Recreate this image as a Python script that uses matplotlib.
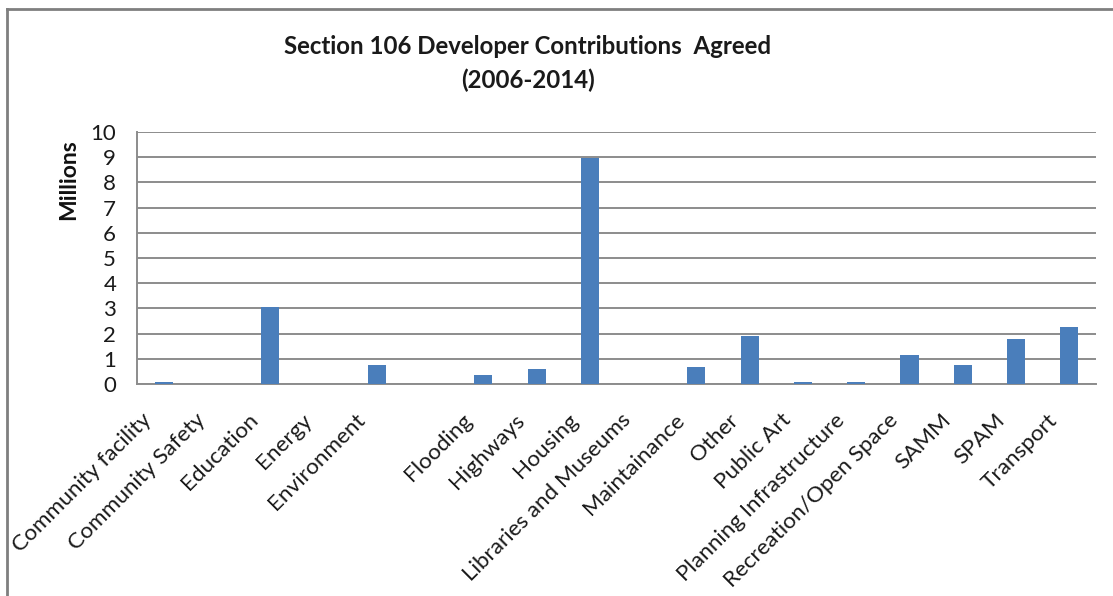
import matplotlib.pyplot as plt
from matplotlib.lines import Line2D

# S106 contributions agreed by category, 2006-2014 (£ millions)
categories = [
    "Community facility", "Community Safety", "Education", "Energy",
    "Environment", "", "Flooding", "Highways", "Housing",
    "Libraries and Museums", "Maintainance", "Other", "Public Art",
    "Planning Infrastructure", "Recreation/Open Space", "SAMM", "SPAM",
    "Transport",
]
values = [
    0.06, 0.0, 3.06, 0.0,
    0.74, 0.0, 0.36, 0.60, 8.97,
    0.0, 0.67, 1.92, 0.07,
    0.07, 1.16, 0.77, 1.78,
    2.27,
]
y_ticks = list(range(0, 11))

W, H = 1113, 596
plt.rcParams['font.family'] = ['Lato', 'DejaVu Sans']

fig = plt.figure(figsize=(W / 100, H / 100), dpi=100)
ax = fig.add_axes([137 / W, 1 - 384 / H, (1096 - 137) / W, (384 - 132) / H])

x = list(range(len(categories)))
ax.bar(x, values, width=0.34, color='#4a7ebb', zorder=3)

ax.set_xlim(-0.5, len(categories) - 0.5)
ax.set_ylim(0, 10)
ax.set_yticks(y_ticks)
ax.set_yticklabels([str(t) for t in y_ticks], fontsize=16, color='#1a1a1a')
ax.grid(axis='y', color='#8c8c8c', linewidth=1.4, zorder=0)

# category labels, slanted and hung just below the axis
ax.set_xticks([])
for i, cat in zip(x, categories):
    ax.annotate(cat, xy=(i, 0), xycoords=('data', 'axes fraction'),
                xytext=(-22, -26), textcoords='offset pixels',
                rotation=45, rotation_mode='anchor', ha='right', va='top',
                fontsize=16.2, color='#1a1a1a')

ax.tick_params(axis='y', length=0, pad=15)
for side in ('top', 'right'):
    ax.spines[side].set_visible(False)
for side in ('left', 'bottom'):
    ax.spines[side].set_color('#8c8c8c')
    ax.spines[side].set_linewidth(1.4)

fig.text(528 / W, 1 - 47 / H, "Section 106 Developer Contributions  Agreed",
         ha='center', va='center', fontsize=17.3, fontweight='bold',
         color='#1a1a1a')
fig.text(528 / W, 1 - 80 / H, "(2006-2014)", ha='center', va='center',
         fontsize=17.3, fontweight='bold', color='#1a1a1a')
fig.text(69 / W, 1 - 180 / H, "Millions", ha='center', va='center',
         rotation=90, fontsize=16.5, fontweight='bold', color='#111111')

# chart frame (left and top edges fall inside the image)
fig.add_artist(Line2D([7 / W, 7 / W], [0, 1 - 9 / H], transform=fig.transFigure,
                      color='#7f7f7f', linewidth=2))
fig.add_artist(Line2D([7 / W, 1], [1 - 9 / H, 1 - 9 / H], transform=fig.transFigure,
                      color='#7f7f7f', linewidth=2))

fig.savefig('out.png', dpi=100)
